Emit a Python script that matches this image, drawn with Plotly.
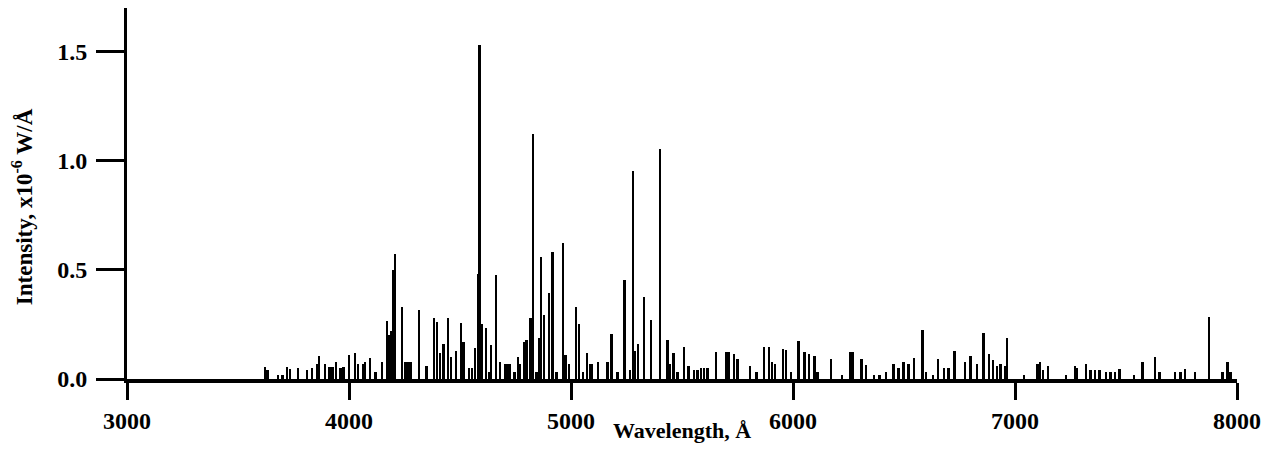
import plotly.graph_objects as go

wavelength = [
    3622, 3632, 3680, 3700, 3720, 3735, 3770, 3810, 3833, 3855, 3865, 3892, 3912, 3925, 3941,
    3962, 3975, 4000, 4027, 4040, 4062, 4072, 4095, 4120, 4149, 4171, 4180, 4185, 4192, 4198,
    4206, 4239, 4255, 4268, 4280, 4315, 4350, 4383, 4396, 4410, 4425, 4446, 4460, 4482, 4505,
    4515, 4540, 4555, 4568, 4580, 4587, 4598, 4616, 4630, 4640, 4662, 4680, 4705, 4715, 4725,
    4745, 4760, 4768, 4790, 4800, 4818, 4830, 4845, 4856, 4866, 4878, 4902, 4916, 4935, 4965,
    4976, 4990, 5023, 5036, 5055, 5072, 5085, 5095, 5122, 5165, 5183, 5210, 5240, 5265, 5278,
    5288, 5303, 5329, 5360, 5401, 5435, 5445, 5461, 5480, 5510, 5530, 5555, 5570, 5585, 5600,
    5615, 5652, 5700, 5710, 5735, 5750, 5806, 5835, 5869, 5892, 5905, 5920, 5955, 5968, 5990,
    6024, 6051, 6073, 6096, 6110, 6171, 6220, 6257, 6268, 6309, 6330, 6365, 6390, 6420, 6452,
    6475, 6497, 6520, 6545, 6583, 6600, 6630, 6652, 6680, 6700, 6727, 6775, 6799, 6830, 6859,
    6883, 6900, 6918, 6935, 6955, 6965, 7040, 7102, 7113, 7125, 7149, 7230, 7270, 7280, 7320,
    7340, 7360, 7380, 7410, 7430, 7450, 7470, 7535, 7575, 7631, 7650, 7720, 7745, 7765, 7810,
    7874, 7935, 7958, 7970,
]

intensity = [
    0.055, 0.04, 0.02, 0.02, 0.055, 0.045, 0.05, 0.04, 0.05, 0.07, 0.105, 0.07, 0.055, 0.055, 0.08,
    0.05, 0.055, 0.11, 0.12, 0.07, 0.07, 0.08, 0.095, 0.03, 0.08, 0.266, 0.2, 0.18, 0.22, 0.50,
    0.573, 0.33, 0.08, 0.08, 0.08, 0.317, 0.06, 0.28, 0.26, 0.12, 0.16, 0.28, 0.10, 0.13, 0.255,
    0.17, 0.05, 0.05, 0.14, 0.48, 1.53, 0.25, 0.235, 0.03, 0.155, 0.477, 0.08, 0.07, 0.07, 0.07,
    0.03, 0.10, 0.07, 0.17, 0.18, 0.28, 1.124, 0.03, 0.19, 0.56, 0.295, 0.395, 0.583, 0.03, 0.623,
    0.11, 0.07, 0.33, 0.25, 0.03, 0.12, 0.07, 0.07, 0.08, 0.08, 0.205, 0.03, 0.454, 0.04, 0.954,
    0.13, 0.16, 0.376, 0.27, 1.055, 0.18, 0.07, 0.12, 0.03, 0.145, 0.06, 0.04, 0.04, 0.05, 0.05,
    0.05, 0.125, 0.125, 0.125, 0.115, 0.09, 0.06, 0.03, 0.145, 0.148, 0.08, 0.07, 0.137, 0.135, 0.03,
    0.174, 0.125, 0.115, 0.105, 0.03, 0.09, 0.02, 0.125, 0.125, 0.09, 0.065, 0.02, 0.02, 0.03, 0.07,
    0.05, 0.08, 0.07, 0.095, 0.225, 0.03, 0.02, 0.09, 0.05, 0.05, 0.128, 0.08, 0.105, 0.07, 0.212,
    0.115, 0.085, 0.06, 0.07, 0.06, 0.19, 0.02, 0.07, 0.08, 0.04, 0.06, 0.02, 0.06, 0.05, 0.07,
    0.04, 0.04, 0.04, 0.03, 0.03, 0.03, 0.045, 0.02, 0.08, 0.10, 0.03, 0.03, 0.03, 0.045, 0.03,
    0.286, 0.03, 0.08, 0.03,
]

x_ticks = [3000, 4000, 5000, 6000, 7000, 8000]
y_ticks = [0.0, 0.5, 1.0, 1.5]

x_title = "<b>Wavelength, Å</b>"
y_title = "<b>Intensity, x10<sup>-6</sup> W/Å</b>"

font_family = "Liberation Serif"

fig = go.Figure()
fig.add_trace(go.Bar(
    x=wavelength,
    y=intensity,
    width=11,
    marker=dict(color="black", line=dict(width=0)),
    showlegend=False,
    hoverinfo="x+y",
))

# the page body adds an 8 px offset, so the figure is 8 px smaller in each direction
fig.update_layout(
    width=1262,
    height=441,
    margin=dict(l=119, r=33, t=0, b=70, autoexpand=False),
    paper_bgcolor="white",
    plot_bgcolor="white",
    font=dict(family=font_family, color="black", size=22),
    bargap=0,
)

fig.update_xaxes(
    range=[3000, 8000],
    tickvals=x_ticks,
    ticktext=[str(v) for v in x_ticks],
    ticks="outside",
    ticklen=17,
    tickwidth=3,
    tickcolor="black",
    showline=True,
    linewidth=4,
    linecolor="black",
    showgrid=False,
    zeroline=False,
    automargin=False,
    tickfont=dict(family=font_family, size=24, color="black", weight="bold"),
)

fig.update_yaxes(
    range=[0, 1.70],
    tickvals=y_ticks,
    ticktext=["%.1f" % v for v in y_ticks],
    ticks="outside",
    ticklen=28,
    tickwidth=3,
    tickcolor="black",
    showline=True,
    linewidth=3,
    linecolor="black",
    showgrid=False,
    zeroline=False,
    automargin=False,
    ticklabelstandoff=4,
    tickfont=dict(family=font_family, size=24, color="black", weight="bold"),
)

fig.add_annotation(
    text=x_title, xref="paper", yref="paper", x=0.5, y=-0.1375,
    xanchor="center", yanchor="middle", showarrow=False,
    font=dict(family=font_family, size=22, color="black"),
)
fig.add_annotation(
    text=y_title, xref="paper", yref="paper", x=-0.094, y=0.465,
    xanchor="center", yanchor="middle", showarrow=False, textangle=-90,
    font=dict(family=font_family, size=23, color="black"),
)

fig.write_html("out.html")
